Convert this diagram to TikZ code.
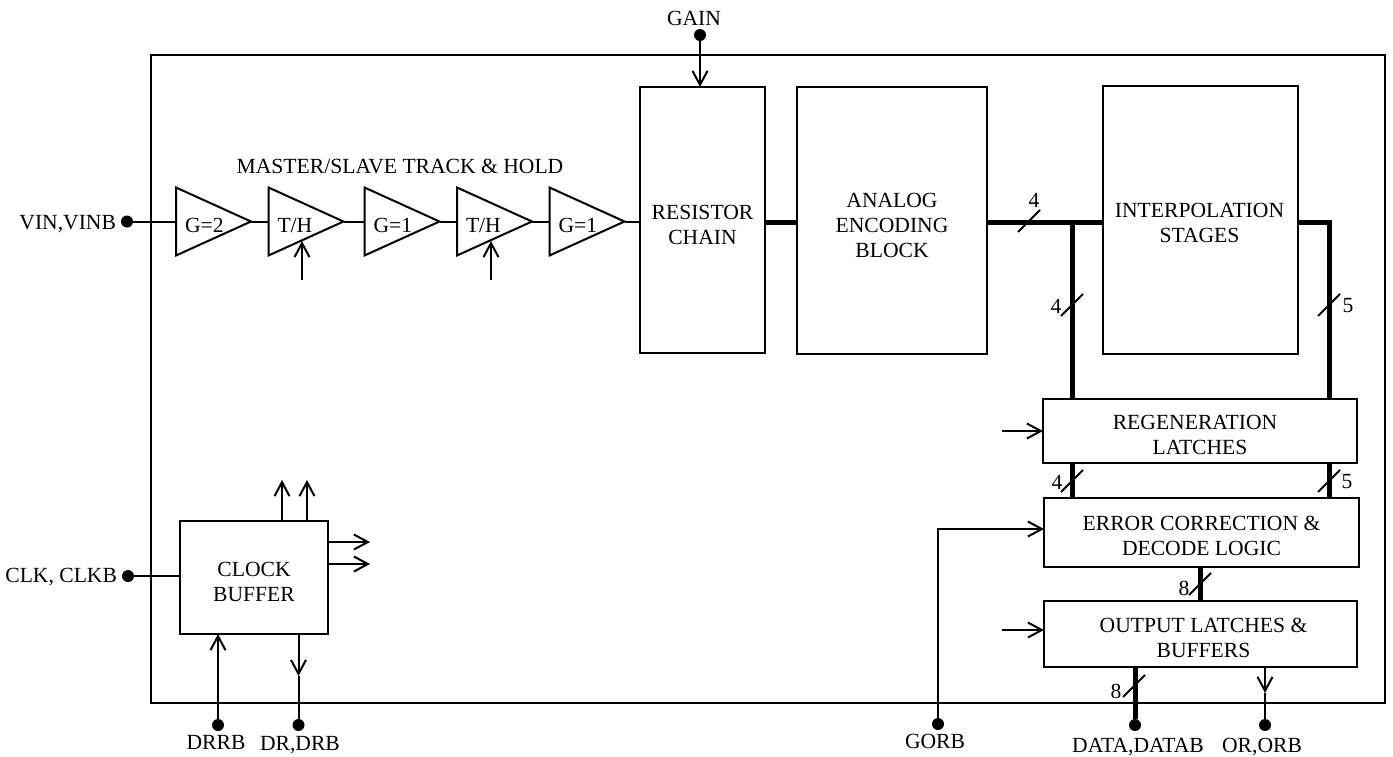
\documentclass[tikz,border=0pt]{standalone}
\usepackage{fontspec}
\setmainfont{Liberation Serif}
\usetikzlibrary{arrows.meta, shapes.geometric, calc}

\begin{document}
\begin{tikzpicture}[x=0.5pt,y=-0.5pt,line width=1pt,>={Straight Barb[length=7pt,width=7.5pt]},
                    block/.style={rectangle,draw,outer sep=0pt,inner sep=0pt},
                    amp/.style={isosceles triangle,isosceles triangle stretches,draw,outer sep=0pt,inner sep=0pt,
                                minimum width=34pt,minimum height=37.5pt,anchor=lower side},
                    pin/.style={circle,fill=black,inner sep=0pt,outer sep=0pt,minimum size=6pt},
                    txt/.style={font=\fontsize{10.8pt}{12.5pt}\selectfont,align=center,inner sep=0pt},
                    bus/.style={line width=2.5pt},
                    tick/.style={line width=0.9pt}]
\useasboundingbox (0,0) rectangle (1393,756);

\node [block,minimum width=617pt,minimum height=324pt] (Chip) at (768,379) {};

% blocks
\node [block,minimum width=62.5pt,minimum height=133pt] (Resistor) at (702.5,220) {};
\node [block,minimum width=95pt,minimum height=133.5pt] (Analog) at (892,220.5) {};
\node [block,minimum width=97.5pt,minimum height=134pt] (Interp) at (1200.5,220) {};
\node [block,minimum width=157pt,minimum height=32pt] (Regen) at (1200,431) {};
\node [block,minimum width=157.5pt,minimum height=34.5pt] (Error) at (1201.5,532.5) {};
\node [block,minimum width=156.5pt,minimum height=33pt] (Output) at (1200.5,634) {};
\node [block,minimum width=74pt,minimum height=56.5pt] (Clock) at (254,577.5) {};

\node[txt] (ResistorText) [shift={(0,4.5)}] at (Resistor) {RESISTOR\\CHAIN};
\node[txt] (AnalogText) [shift={(0,5)}] at (Analog) {ANALOG\\ENCODING\\BLOCK};
\node[txt] (InterpText) [shift={(-1,3)}] at (Interp) {INTERPOLATION\\STAGES};
\node[txt] (RegenText) [shift={(-5,4)}] at (Regen) {REGENERATION\\\hspace*{5pt}LATCHES};
\node[txt] (ErrorText) [shift={(0,3.5)}] at (Error) {ERROR CORRECTION \&\\DECODE LOGIC};
\node[txt] (OutputText) [shift={(3,3.5)}] at (Output) {OUTPUT LATCHES \&\\BUFFERS};
\node[txt] (ClockText) [shift={(0,4.5)}] at (Clock) {CLOCK\\BUFFER};

% track and hold chain
\foreach \name/\x/\lab in {GainA/176/{G=2},HoldA/268.5/{T/H},GainB/364.5/{G=1},HoldB/457/{T/H},GainC/549.5/{G=1}}
   {\node [amp] (\name) at (\x,221.5) {};
    \node[txt,anchor=west] (\name Text) [shift={(8,4)}] at (\name.lower side) {\lab};}

\node[txt] (ChainText) at (400,166) {MASTER/SLAVE TRACK \& HOLD};

\foreach \a/\b in {GainA/HoldA,HoldA/GainB,GainB/HoldB,HoldB/GainC}
   {\draw (\a.apex)--(\b.lower side);}
\draw (GainC.apex)--(Resistor.west |- GainC.apex);

\coordinate (HoldInA) at (302,280);
\coordinate (HoldOutA) at (302,241);
\coordinate (HoldInB) at (491,280);
\coordinate (HoldOutB) at (491,241);
\draw[->] (HoldInA)--(HoldOutA);
\draw[->] (HoldInB)--(HoldOutB);

% pins
\node [pin] (VinPin) at (127,221.5) {};
\node [pin] (ClkPin) at (128,576) {};
\node [pin] (GainPin) at (700,35) {};
\node [pin] (DrrbPin) at (218,725) {};
\node [pin] (DrPin) at (298.5,725) {};
\node [pin] (GorbPin) at (938,724) {};
\node [pin] (DataPin) at (1135,725) {};
\node [pin] (OrPin) at (1265,725) {};

\node[txt,anchor=east] (VinText) at (117,224) {VIN,VINB};
\node[txt,anchor=east] (ClkText) at (118,577) {CLK, CLKB};
\node[txt] (GainText) at (694,18) {GAIN};
\node[txt] (DrrbText) at (216,742) {DRRB};
\node[txt] (DrText) at (300,745) {DR,DRB};
\node[txt] (GorbText) at (935,741) {GORB};
\node[txt] (DataText) at (1138,747) {DATA,DATAB};
\node[txt] (OrText) at (1262,747) {OR,ORB};

\draw (VinPin)--(GainA.lower side);
\draw (ClkPin)--(Clock.west |- ClkPin);
\draw[->] (GainPin)--(GainPin |- Resistor.north);
\draw[->] (DrrbPin)--(DrrbPin |- Clock.south);

% dr,drb has its barb halfway down
\coordinate (DrBarb) at (298.5,676);
\draw[->] (DrPin |- Clock.south)--(DrBarb);
\draw (DrBarb)--(DrPin);

\coordinate (OrBarb) at (1265,693);
\draw[->] (OrPin |- Output.south)--(OrBarb);
\draw (OrBarb)--(OrPin);

\coordinate (ErrorIn) at (1044,529);
\draw[->] (GorbPin) |- (ErrorIn);

% clock outputs
\foreach \x/\n in {282/A,307/B}
   {\coordinate (ClockUp\n) at (\x,480);
    \draw[->] (ClockUp\n |- Clock.north)--(ClockUp\n);}
\foreach \y/\n in {542/A,564/B}
   {\coordinate (ClockOut\n) at (370,\y);
    \draw[->] (Clock.east |- ClockOut\n)--(ClockOut\n);}

\coordinate (RegenIn) at (1002,431);
\coordinate (OutputIn) at (1002,630);
\draw[->] (RegenIn)--(RegenIn -| Regen.west);
\draw[->] (OutputIn)--(OutputIn -| Output.west);

% thick busses
\coordinate (BusLeft) at (1072,222);
\coordinate (BusRight) at (1329,222);
\coordinate (ErrorBus) at (1200,567);
\coordinate (DataBus) at (1135,667);
\draw[bus] (Resistor.east |- BusLeft)--(Analog.west |- BusLeft);
\draw[bus] (Analog.east |- BusLeft)--(Interp.west |- BusLeft);
\draw[bus] (Interp.east |- BusRight)--(BusRight)--(BusRight |- Regen.north);
\draw[bus] (BusLeft)--(BusLeft |- Regen.north);
\draw[bus] (BusLeft |- Regen.south)--(BusLeft |- Error.north);
\draw[bus] (BusRight |- Regen.south)--(BusRight |- Error.north);
\draw[bus] (ErrorBus)--(ErrorBus |- Output.north);
\draw[bus] (DataBus)--(DataPin);

% bus width ticks
\foreach \x/\y/\lab/\lx/\ly/\n in {1029/221/4/1034/200/A,1072/305/4/1056/306/B,1329/305/5/1348/306/C,
                                   1072/481/4/1057/482/D,1329/481/5/1347/482/E,1200/584/8/1184/588/F,1134/686/8/1116/691/G}
   {\coordinate (Tick\n) at (\x,\y);
    \draw[tick] ([shift={(-11,11)}]Tick\n)--([shift={(11,-11)}]Tick\n);
    \node[txt] (Width\n) at (\lx,\ly) {\lab};}

\end{tikzpicture}
\end{document}
